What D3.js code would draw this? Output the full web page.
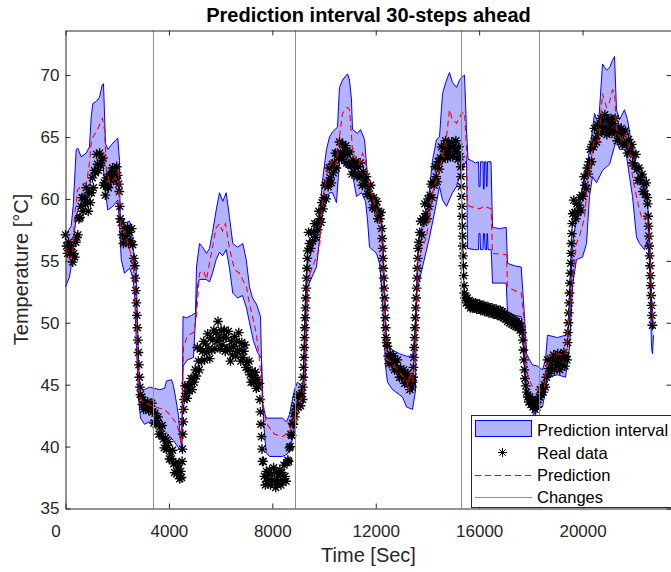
<!DOCTYPE html>
<html><head><meta charset="utf-8">
<script src="https://cdn.jsdelivr.net/npm/d3@7"></script>
<style>
html,body{margin:0;padding:0;background:#fff;}
text{font-family:"Liberation Sans",Arial,Helvetica,sans-serif;}
</style></head>
<body>
<svg id="chart" width="671" height="572"></svg>
<script>
// ---------- data (time [s], temperature [°C]) ----------
const xTicks = [0, 4000, 8000, 12000, 16000, 20000];
const yTicks = [35, 40, 45, 50, 55, 60, 65, 70];
const changeTimes = [3381, 8890, 15284, 18302];
const legendLabels = ["Prediction interval", "Real data", "Prediction", "Changes"];

const upperBound = [[0,57.1],[220,57.8],[300,59.5],[414,64.0],[476,64.1],[607,63.4],[800,63.7],[928,64.2],[994,66.6],[1056,67.7],[1200,67.9],[1315,68.2],[1420,69.2],[1470,69.3],[1547,64.5],[1636,64.0],[1830,64.5],[1961,64.8],[2023,64.9],[2089,63.1],[2116,58.3],[2216,58.0],[2476,58.2],[2541,57.8],[2603,56.2],[2735,54.5],[2785,50.0],[2843,46.0],[2901,44.7],[3056,44.6],[3249,44.8],[3443,44.7],[3636,44.6],[3830,44.7],[3907,45.3],[4100,45.4],[4178,44.9],[4255,44.0],[4371,42.5],[4448,40.5],[4506,40.0],[4545,50.5],[4680,50.4],[4874,50.6],[5029,50.8],[5067,54.5],[5183,56.4],[5338,56.0],[5454,55.6],[5570,56.0],[5686,57.3],[5829,59.1],[5957,60.5],[6085,59.8],[6216,60.5],[6344,58.5],[6471,56.4],[6653,56.1],[6858,56.4],[6990,55.1],[7117,52.9],[7233,52.0],[7388,51.5],[7543,50.5],[7620,43.2],[7775,42.3],[8085,42.3],[8394,42.3],[8548,42.0],[8664,42.6],[8857,44.6],[8973,45.2],[9090,45.0],[9206,45.3],[9245,50.0],[9322,54.5],[9554,56.1],[9825,58.5],[9941,61.5],[10096,64.0],[10212,65.0],[10328,65.4],[10521,65.8],[10598,69.0],[10714,69.6],[10908,70.1],[10985,69.6],[11062,68.0],[11101,65.6],[11295,65.3],[11411,65.6],[11566,64.8],[11682,61.8],[11875,59.9],[12146,59.1],[12262,57.7],[12339,53.0],[12417,48.4],[12649,47.8],[12919,47.5],[13190,47.3],[13422,47.3],[13577,50.5],[13616,55.1],[13693,57.3],[13964,58.5],[14196,63.1],[14351,64.8],[14466,65.0],[14582,68.5],[14737,69.6],[14853,70.2],[14969,69.4],[15124,69.0],[15240,69.6],[15318,69.8],[15434,70.0],[15511,65.6],[15569,63.2],[15704,63.1],[15859,62.9],[15975,63.0],[15995,61.0],[16033,61.0],[16052,63.0],[16150,63.0],[16168,60.8],[16190,60.8],[16207,63.0],[16265,63.0],[16284,61.0],[16305,61.0],[16323,63.0],[16459,63.0],[16517,57.7],[16787,57.6],[17046,57.7],[17097,54.8],[17367,54.6],[17626,54.5],[17754,50.5],[17832,47.5],[17950,47.0],[18064,46.6],[18257,46.5],[18450,46.2],[18566,47.0],[18644,49.0],[19030,48.8],[19340,49.0],[19495,50.0],[19611,56.4],[19766,58.5],[19998,61.0],[20191,62.9],[20346,65.0],[20462,66.9],[20617,66.0],[20772,70.9],[20926,70.4],[21042,70.6],[21158,71.2],[21236,71.5],[21313,67.2],[21429,66.4],[21622,67.2],[21738,66.4],[21893,64.5],[22086,62.3],[22318,62.1],[22473,61.8],[22512,59.7],[22589,57.5],[22667,52.0],[22744,49.5]];

const lowerBound = [[0,52.9],[155,53.7],[259,55.1],[348,57.3],[414,58.6],[542,59.4],[801,59.9],[928,60.6],[994,62.1],[1250,62.6],[1443,62.9],[1547,60.5],[1636,59.1],[1830,59.4],[2023,59.9],[2089,58.0],[2155,55.1],[2282,54.0],[2476,54.4],[2603,53.7],[2669,52.4],[2746,48.0],[2824,44.0],[2901,42.3],[3056,41.8],[3249,42.0],[3481,41.8],[3714,41.5],[3946,41.0],[4178,40.5],[4332,40.0],[4487,39.6],[4545,46.5],[4719,47.0],[4951,47.2],[5048,51.0],[5106,53.0],[5183,53.5],[5442,53.5],[5570,53.3],[5686,54.0],[5829,55.1],[5957,55.7],[6073,55.4],[6216,55.9],[6344,54.4],[6471,52.4],[6653,52.0],[6846,52.2],[7001,51.2],[7117,50.0],[7272,48.5],[7427,47.6],[7581,47.1],[7659,42.0],[7762,39.5],[7891,39.2],[8394,39.2],[8587,39.4],[8742,40.2],[8857,41.5],[8973,43.8],[9090,43.3],[9206,43.5],[9283,46.0],[9361,52.9],[9709,54.5],[9941,58.9],[10212,60.5],[10328,60.5],[10482,59.7],[10598,63.1],[10869,62.6],[11062,62.4],[11256,60.2],[11449,60.5],[11604,59.8],[11682,58.3],[11759,56.1],[12030,55.6],[12146,54.8],[12262,52.0],[12378,46.5],[12455,45.2],[12649,44.6],[13035,44.0],[13190,43.2],[13422,43.0],[13538,44.5],[13577,52.4],[13809,54.5],[14080,56.9],[14351,59.7],[14466,61.0],[14582,59.9],[14737,59.4],[14969,60.5],[15124,61.0],[15240,61.8],[15395,62.6],[15511,63.1],[15550,56.0],[15820,55.9],[15975,55.9],[15995,57.2],[16033,57.2],[16052,55.9],[16150,55.9],[16168,57.2],[16207,57.2],[16226,55.9],[16284,55.9],[16305,57.2],[16323,57.2],[16342,55.9],[16466,55.9],[16517,53.2],[17046,53.2],[17097,50.8],[17367,50.6],[17626,50.5],[17715,49.0],[17832,44.0],[18064,43.0],[18141,42.0],[18218,43.0],[18450,43.2],[18566,44.5],[18644,45.6],[19030,45.8],[19340,45.6],[19495,48.0],[19611,53.0],[19766,55.1],[19998,55.3],[20153,56.4],[20268,60.2],[20384,61.8],[20539,61.3],[20772,62.3],[21042,62.8],[21313,64.8],[21429,64.0],[21661,64.0],[21816,61.8],[21932,60.2],[22086,56.9],[22202,56.4],[22396,55.9],[22512,56.7],[22589,54.8],[22667,48.0],[22705,47.5],[22744,49.0]];

const prediction = [[0,56.0],[155,55.1],[271,55.5],[348,58.5],[464,60.7],[658,61.2],[812,61.3],[928,62.9],[1006,64.8],[1238,65.6],[1431,66.5],[1509,65.6],[1586,62.3],[1702,61.3],[1895,61.6],[2050,62.2],[2127,57.8],[2282,57.4],[2476,55.9],[2603,55.3],[2708,52.0],[2785,47.0],[2862,44.2],[2978,43.6],[3133,43.5],[3327,43.3],[3636,43.1],[3830,43.0],[4023,42.6],[4282,41.9],[4410,41.1],[4487,40.2],[4565,48.0],[4719,49.0],[4951,49.2],[5067,50.5],[5183,54.0],[5338,54.2],[5454,53.5],[5686,56.1],[5829,57.7],[5957,58.0],[6073,57.4],[6189,58.0],[6344,56.0],[6537,54.3],[6730,54.0],[6846,53.5],[7001,52.9],[7117,51.5],[7233,50.5],[7376,49.2],[7504,47.0],[7620,43.8],[7762,41.9],[8085,41.0],[8394,40.8],[8664,41.2],[8921,42.7],[9051,43.5],[9206,44.2],[9283,48.0],[9361,53.5],[9554,54.5],[9825,56.0],[9941,59.9],[10134,62.3],[10328,63.1],[10482,62.8],[10598,65.0],[10714,66.9],[10908,67.4],[10985,67.2],[11101,64.0],[11256,63.1],[11372,62.8],[11488,63.7],[11604,63.0],[11759,61.0],[12030,59.1],[12223,57.8],[12339,52.0],[12417,47.1],[12649,46.7],[12919,46.0],[13074,45.6],[13190,45.4],[13268,44.5],[13306,46.0],[13422,45.2],[13500,46.5],[13577,50.0],[13616,55.1],[13964,56.9],[14196,60.5],[14466,62.3],[14737,65.0],[14853,67.2],[14969,66.4],[15124,66.1],[15318,66.9],[15434,67.0],[15511,64.2],[15550,59.7],[15627,59.4],[16014,59.2],[16207,59.4],[16466,59.2],[16517,55.6],[17058,55.5],[17097,52.9],[17367,52.6],[17626,52.4],[17754,50.0],[17832,46.0],[18064,44.8],[18334,44.5],[18527,44.8],[18644,47.3],[19030,47.5],[19340,47.4],[19495,51.0],[19766,56.4],[19882,57.0],[20075,58.5],[20191,61.3],[20346,63.4],[20462,64.8],[20617,64.6],[20772,68.5],[20926,67.4],[21042,67.8],[21158,68.8],[21236,68.6],[21313,65.6],[21507,64.8],[21661,65.2],[21816,64.0],[21932,61.8],[22086,60.2],[22202,59.1],[22318,58.3],[22473,58.6],[22589,56.9],[22667,52.0],[22744,49.8]];

const realData = [
[0,57.1],[40,56.2],[80,55.6],[120,56.5],[160,55.6],[200,55.9],[240,56.2],[280,54.9],[320,55.6],[360,55.3],[400,56.5],[440,56.9],[480,57.1],[520,58.4],[560,58.5],[600,59.4],[640,60.1],[680,59.0],[720,60.1],[760,59.6],[800,60.9],[840,59.8],[880,59.0],[920,60.5],[960,59.7],[1000,60.5],[1040,61.7],[1080,60.9],[1120,62.3],[1160,62.1],[1200,63.6],[1240,62.8],[1280,62.3],[1320,63.7],[1360,62.7],[1400,63.1],[1440,63.3],[1470,61.1],[1500,61.3],[1540,60.3],[1580,61.7],[1620,61.0],[1660,60.9],[1700,62.0],[1740,61.5],[1780,62.0],[1820,62.5],[1860,61.5],[1900,62.2],[1940,61.8],[1980,62.6],[2020,61.9],[2060,61.2],[2080,60.6],[2100,59.4],[2120,58.4],[2160,58.1],[2200,57.1],[2240,56.4],[2280,57.6],[2320,56.8],[2360,57.2],[2400,57.7],[2440,56.4],[2480,57.3],[2520,56.6],[2560,57.6],[2600,56.3],[2640,55.2],[2680,54.6],[2700,53.6],[2720,52.6],[2740,51.6],[2760,50.6],[2780,49.6],[2800,48.6],[2820,47.6],[2840,46.6],[2860,45.6],[2880,44.8],[2900,44.2],[2940,44.0],[2980,43.4],[3020,43.0],[3060,43.6],[3100,43.1],[3140,43.4],[3180,43.6],[3220,42.9],[3260,43.3],[3300,43.0],[3340,43.5],[3380,42.8],
[3420,41.9],[3460,42.7],[3500,41.8],[3540,42.1],[3580,42.4],[3620,41.0],[3660,41.6],[3700,41.0],[3740,41.7],[3780,40.6],[3820,39.9],[3860,40.7],[3900,39.8],[3940,40.1],[3980,40.4],[4020,39.0],[4060,39.6],[4100,39.0],[4140,39.7],[4180,38.6],[4220,37.9],[4260,38.7],[4300,37.8],[4340,38.2],[4380,38.6],[4420,37.4],[4460,38.0],[4490,37.5],[4510,38.8],[4525,39.8],[4540,41.0],[4555,42.0],[4570,43.0],[4590,43.8],[4620,44.9],[4660,44.3],[4700,43.9],[4740,44.9],[4780,44.5],[4820,45.0],[4860,45.5],[4900,44.6],[4940,45.5],[4980,45.2],[5020,46.2],[5060,45.7],[5100,48.0],[5140,46.9],[5180,46.2],[5220,47.9],[5260,46.9],[5300,47.7],[5340,48.5],[5380,47.0],[5420,48.3],[5460,47.6],[5500,49.1],[5540,47.9],[5580,47.1],[5620,48.8],[5660,47.8],[5700,48.6],[5740,49.4],[5780,47.9],[5820,49.2],[5860,48.5],[5900,50.1],[5940,48.8],[5980,47.9],[6020,49.4],[6060,48.2],[6100,48.8],[6140,49.4],[6180,47.7],[6220,48.8],[6260,47.9],[6300,49.3],[6340,47.9],[6380,46.9],[6420,48.5],[6460,47.4],[6500,48.1],[6540,48.9],[6580,47.3],[6620,48.5],[6660,47.7],[6700,49.2],[6740,47.8],[6780,46.9],[6820,48.4],[6860,47.2],[6900,47.7],[6940,48.2],[6980,46.4],[7020,46.8],[7060,46.2],[7100,46.9],[7140,45.8],[7180,45.2],[7220,46.1],[7260,45.2],[7300,45.6],[7340,46.0],[7380,44.7],[7420,45.4],[7460,44.8],[7500,45.1],[7520,43.8],[7540,42.8],[7560,41.8],[7580,40.8],[7600,39.8],[7620,38.8],[7650,38.8],[7690,37.6],[7730,36.9],[7770,38.0],[7810,37.2],[7850,37.7],[7890,38.1],[7930,36.9],[7970,37.8],[8010,37.2],[8050,38.3],[8090,37.3],[8130,36.7],[8170,37.9],[8210,37.1],[8250,37.6],[8290,38.1],[8330,36.9],[8370,37.9],[8410,37.3],[8450,38.5],[8490,37.6],[8530,37.2],[8570,38.7],[8600,38.9],[8630,38.8],[8660,39.9],[8690,40.0],[8720,41.0],[8750,40.9],[8780,41.9],[8810,41.8],[8840,42.7],[8870,42.4],[8900,43.3],
[8930,43.0],[8970,44.0],[9010,43.2],[9050,44.2],[9090,43.3],[9130,44.3],[9170,43.8],[9183,44.8],[9196,45.6],[9209,46.4],[9222,47.2],[9235,48.0],[9248,48.8],[9261,49.6],[9274,50.4],[9287,51.2],[9300,52.0],[9313,52.8],[9326,53.6],[9339,54.4],[9352,55.2],[9370,55.8],[9400,57.3],[9440,56.4],[9480,56.0],[9520,57.3],[9560,56.6],[9600,57.3],[9640,58.0],[9680,56.9],[9720,58.0],[9760,57.5],[9800,59.0],[9840,58.4],[9880,58.1],[9920,59.7],[9960,59.2],[10000,60.1],[10040,61.1],[10080,60.0],[10120,61.3],[10160,61.0],[10200,62.5],[10240,61.7],[10280,61.3],[10320,62.8],[10360,62.1],[10400,62.9],[10440,63.7],[10480,62.5],[10520,63.7],[10560,63.4],[10600,64.6],[10640,63.7],[10680,63.2],[10720,64.4],[10760,63.5],[10800,63.9],[10840,64.3],[10880,62.9],[10920,63.6],[10960,62.8],[11000,63.8],[11040,62.7],[11080,62.0],[11120,63.1],[11160,62.2],[11200,62.6],[11240,63.0],[11280,61.8],[11320,62.6],[11360,61.9],[11400,62.9],[11440,61.8],[11480,61.1],[11520,62.2],[11560,61.2],[11600,61.5],[11640,61.8],[11680,60.4],[11720,61.0],[11760,60.4],[11800,61.1],[11840,60.0],[11880,59.3],[11920,60.1],[11960,59.2],[12000,59.5],[12040,59.8],[12080,58.4],[12120,59.0],[12160,58.4],[12200,58.9],[12230,57.6],[12250,56.8],[12265,56.0],[12280,55.2],[12295,54.4],[12310,53.6],[12325,52.8],[12340,52.0],[12355,51.2],[12370,50.4],[12385,49.6],[12400,48.8],[12420,48.4],[12450,48.1],[12480,47.3],[12520,46.7],[12560,47.5],[12600,46.8],[12640,47.1],[12680,47.3],[12720,46.2],[12760,46.8],[12800,46.3],[12840,47.0],[12880,46.2],[12920,45.6],[12960,46.3],[13000,45.6],[13040,45.9],[13080,46.2],[13120,45.1],[13160,45.7],[13200,45.2],[13240,45.9],[13280,45.1],[13320,44.6],[13360,45.4],[13400,44.8],[13430,45.2],[13445,45.6],[13460,46.4],[13475,47.2],[13490,48.0],[13505,48.8],[13520,49.6],[13535,50.4],[13550,51.2],[13565,52.0],[13580,52.8],[13595,53.6],[13610,54.4],[13625,55.2],[13640,56.0],[13670,56.5],[13700,57.3],[13740,58.2],[13780,57.1],[13820,58.4],[13860,58.1],[13900,59.6],[13940,58.8],[13980,58.4],[14020,60.0],[14060,59.4],[14100,60.3],[14140,61.2],[14180,60.1],[14220,61.4],[14260,61.1],[14300,62.6],[14340,61.8],[14380,61.4],[14420,63.0],[14460,62.4],[14500,63.3],[14540,64.2],[14580,63.2],[14620,64.1],[14660,63.8],[14700,64.7],[14740,63.8],[14780,63.3],[14820,64.3],[14860,63.6],[14900,64.1],[14940,64.6],[14980,63.4],[15020,64.2],[15060,63.8],[15100,64.7],[15140,63.8],[15180,63.2],[15220,64.2],[15260,63.4],
[15290,62.6],[15300,61.8],[15310,61.0],[15320,60.2],[15330,59.4],[15340,58.6],[15350,57.8],[15360,57.0],[15370,56.2],[15380,55.4],[15390,54.6],[15400,53.8],[15415,53.0],[15430,52.4],[15460,52.0],[15500,51.6],[15540,52.0],[15580,51.4],[15620,51.8],[15660,51.2],[15700,51.6],[15740,51.2],[15780,51.6],[15820,51.2],[15860,51.6],[15900,51.1],[15940,51.5],[15980,51.1],[16020,51.5],[16060,51.0],[16100,51.4],[16140,51.0],[16180,51.4],[16220,50.9],[16260,51.3],[16300,50.9],[16340,51.3],[16380,50.8],[16420,51.2],[16460,50.8],[16500,51.2],[16540,50.7],[16580,51.1],[16620,50.7],[16660,51.1],[16700,50.6],[16740,51.0],[16780,50.6],[16820,51.0],[16860,50.5],[16900,50.9],[16940,50.4],[16980,50.8],[17020,50.3],[17060,50.6],[17100,50.1],[17140,50.5],[17180,50.0],[17220,50.4],[17260,49.9],[17300,50.3],[17340,49.8],[17380,50.2],[17420,49.7],[17460,50.1],[17500,49.6],[17540,50.0],[17580,49.4],[17620,49.7],[17660,49.2],[17690,48.6],[17710,47.8],[17730,47.0],[17750,46.2],[17770,45.5],[17800,44.9],[17840,44.4],[17880,44.0],[17920,43.6],[17960,44.0],[18000,43.4],[18040,43.8],[18080,43.2],[18120,43.6],[18160,43.0],[18200,43.6],[18240,43.2],[18280,43.8],
[18320,44.0],[18360,44.6],[18400,44.2],[18440,44.8],[18480,44.4],[18520,45.0],[18560,44.8],[18600,45.6],[18640,47.0],[18680,46.3],[18720,45.9],[18760,47.0],[18800,46.4],[18840,46.9],[18880,47.4],[18920,46.2],[18960,47.0],[19000,46.6],[19040,47.5],[19080,46.7],[19120,46.2],[19160,47.2],[19200,46.6],[19240,47.1],[19280,47.6],[19320,46.5],[19360,47.3],[19400,47.0],[19420,48.4],[19435,49.2],[19450,50.0],[19465,50.8],[19480,51.6],[19495,52.4],[19510,53.2],[19525,54.0],[19540,54.8],[19555,55.6],[19570,56.4],[19585,57.2],[19600,58.0],[19620,58.8],[19660,59.9],[19700,58.9],[19740,58.4],[19780,59.6],[19820,58.9],[19860,59.5],[19900,60.1],[19940,59.1],[19980,60.3],[20020,60.2],[20060,61.8],[20100,61.1],[20140,60.8],[20180,62.5],[20220,62.0],[20260,63.0],[20300,64.0],[20340,63.0],[20380,64.4],[20420,64.2],[20460,65.7],[20500,64.9],[20540,64.6],[20580,66.0],[20620,65.3],[20660,65.9],[20700,66.5],[20740,65.4],[20780,66.3],[20820,65.7],[20860,66.8],[20900,65.8],[20940,65.2],[20980,66.4],[21020,65.6],[21060,66.1],[21100,66.5],[21140,65.3],[21180,66.1],[21220,65.5],[21260,66.5],[21300,65.4],[21340,64.7],[21380,65.8],[21420,64.9],[21460,65.3],[21500,65.7],[21540,64.4],[21580,65.2],[21620,64.5],[21660,65.5],[21700,64.4],[21740,63.7],[21780,64.8],[21820,63.8],[21860,64.1],[21900,64.4],[21940,62.9],[21980,63.6],[22020,62.7],[22060,63.6],[22100,62.4],[22140,61.5],[22180,62.5],[22220,61.5],[22260,61.7],[22300,62.0],[22340,60.6],[22380,61.2],[22420,60.4],[22460,61.3],[22500,60.1],[22520,59.6],[22535,58.6],[22550,57.8],[22565,57.0],[22580,56.2],[22595,55.4],[22610,54.6],[22625,53.8],[22640,53.0],[22655,52.2],[22670,51.4],[22685,50.6],[22700,49.8]
];

// ---------- layout ----------
(function () {
const svg = d3.select("#chart");
const pLeft = 65.5, pRight = 671.5, pTop = 30.5, pBottom = 508.5;
const axisColor = "#262626";
const fillColor = "#b3b3ff";

const x = d3.scaleLinear().domain([0, 23440]).range([pLeft, pRight]);
const y = d3.scaleLinear().domain([35, 73.6]).range([pBottom, pTop]);

svg.append("rect").attr("width", 671).attr("height", 572).attr("fill", "#fff");

const line = d3.line().x(d => x(d[0])).y(d => y(d[1]));

// Prediction interval band
const band = upperBound.concat(lowerBound.slice().reverse());
svg.append("path").attr("d", line(band) + "Z").attr("fill", fillColor).attr("stroke", "none");
svg.append("path").attr("d", line(upperBound)).attr("fill", "none").attr("stroke", "#0000ff").attr("stroke-width", 1);
svg.append("path").attr("d", line(lowerBound)).attr("fill", "none").attr("stroke", "#0000ff").attr("stroke-width", 1);

// Asterisk marker (plus + cross)
const asterisk = {
  draw(ctx, r) {
    const d = r * 0.7071;
    ctx.moveTo(-r, 0); ctx.lineTo(r, 0);
    ctx.moveTo(0, -r); ctx.lineTo(0, r);
    ctx.moveTo(-d, -d); ctx.lineTo(d, d);
    ctx.moveTo(-d, d); ctx.lineTo(d, -d);
  }
};
const starPath = d3.symbol().type(asterisk).size(4.9)();

svg.append("g").selectAll("path").data(realData).join("path")
  .attr("d", starPath)
  .attr("transform", d => `translate(${x(d[0])},${y(d[1])})`)
  .attr("fill", "none").attr("stroke", "#000").attr("stroke-width", 1.35);

// Prediction
svg.append("path").attr("d", line(prediction)).attr("fill", "none")
  .attr("stroke", "#ff0000").attr("stroke-width", 1.1).attr("stroke-dasharray", "6,4");

// Change lines
svg.append("g").selectAll("line").data(changeTimes).join("line")
  .attr("x1", d => Math.round(x(d)) + 0.5).attr("x2", d => Math.round(x(d)) + 0.5)
  .attr("y1", pTop).attr("y2", pBottom)
  .attr("stroke", "#8c8c8c").attr("stroke-width", 1);

// ---------- axes ----------
function styleAxis(g) {
  g.selectAll(".domain").attr("stroke", axisColor).attr("stroke-width", 1);
  g.selectAll(".tick line").attr("stroke", axisColor).attr("stroke-width", 1);
  g.selectAll("text").attr("fill", axisColor).attr("font-size", "17px")
    .attr("font-family", "'Liberation Sans', Arial, sans-serif");
}
const xAxis = svg.append("g").attr("transform", `translate(0,${pBottom})`)
  .call(d3.axisBottom(x).tickValues(xTicks).tickFormat(d3.format("d")).tickSizeInner(-5).tickSizeOuter(0).tickPadding(16.5));
styleAxis(xAxis);
xAxis.selectAll(".tick text").filter(d => d === 0).attr("dx", -10);

const xAxisTop = svg.append("g").attr("transform", `translate(0,${pTop})`)
  .call(d3.axisTop(x).tickValues(xTicks).tickFormat("").tickSizeInner(-5).tickSizeOuter(0));
styleAxis(xAxisTop);

const yAxis = svg.append("g").attr("transform", `translate(${pLeft},0)`)
  .call(d3.axisLeft(y).tickValues(yTicks).tickSizeInner(-5).tickSizeOuter(0).tickPadding(6));
styleAxis(yAxis);

const yAxisRight = svg.append("g").attr("transform", `translate(${pRight},0)`)
  .call(d3.axisRight(y).tickValues(yTicks).tickFormat("").tickSizeInner(-5).tickSizeOuter(0));
styleAxis(yAxisRight);

// ---------- labels ----------
svg.append("text").attr("x", 368.5).attr("y", 21.5).attr("text-anchor", "middle")
  .attr("font-size", "20px").attr("font-weight", "bold").attr("fill", "#000")
  .text("Prediction interval 30-steps ahead");
svg.append("text").attr("x", 368.5).attr("y", 562).attr("text-anchor", "middle")
  .attr("font-size", "20px").attr("fill", axisColor).text("Time [Sec]");
svg.append("text").attr("transform", "translate(27.5,269.5) rotate(-90)").attr("text-anchor", "middle")
  .attr("font-size", "20px").attr("fill", axisColor).text("Temperature [°C]");

// ---------- legend ----------
const lg = svg.append("g");
lg.append("rect").attr("x", 471.5).attr("y", 415.5).attr("width", 210).attr("height", 92)
  .attr("fill", "#fff").attr("stroke", axisColor).attr("stroke-width", 1);
const rowY = [436, 458.5, 481, 503.3];
lg.append("rect").attr("x", 475.5).attr("y", 420.5).attr("width", 56).attr("height", 16)
  .attr("fill", fillColor).attr("stroke", "#0000ff").attr("stroke-width", 1);
lg.append("path").attr("d", d3.symbol().type(asterisk).size(4.6)()).attr("transform", "translate(502.5,452.5)")
  .attr("fill", "none").attr("stroke", "#000").attr("stroke-width", 1);
lg.append("line").attr("x1", 475).attr("x2", 532).attr("y1", 475.5).attr("y2", 475.5)
  .attr("stroke", "#ff0000").attr("stroke-width", 1.1).attr("stroke-dasharray", "6,4");
lg.append("line").attr("x1", 475).attr("x2", 532).attr("y1", 497.5).attr("y2", 497.5)
  .attr("stroke", "#8c8c8c").attr("stroke-width", 1);
lg.selectAll("text.lab").data(legendLabels).join("text").attr("class", "lab")
  .attr("x", 537).attr("y", (d, i) => rowY[i]).attr("font-size", "16.5px").attr("fill", "#000")
  .text(d => d);
})();
</script>
</body></html>
